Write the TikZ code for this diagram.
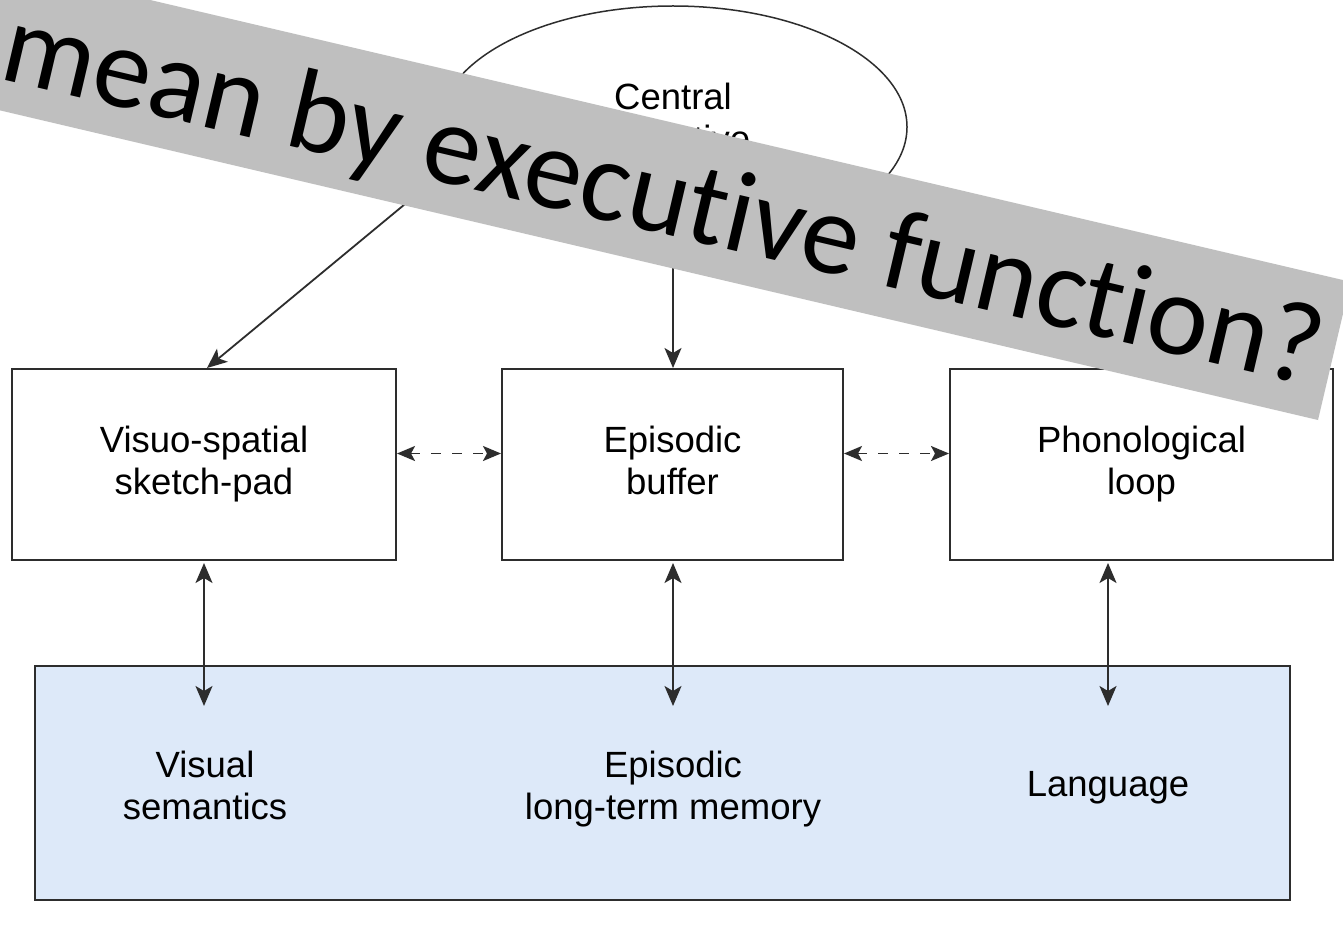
\documentclass[tikz,border=0pt]{standalone}
\usepackage{fontspec}
\setmainfont{Liberation Sans}
\newfontfamily\bannerfont[Ligatures={NoCommon},RawFeature={-liga;-clig;-dlig;-calt}]{Carlito}
\usetikzlibrary{arrows.meta,shapes.geometric}
\definecolor{bannergray}{RGB}{191,191,191}
\definecolor{ltmblue}{RGB}{221,233,249}
\definecolor{edgecol}{RGB}{45,45,45}
\begin{document}
\begin{tikzpicture}[x=1pt,y=-1pt,
  diagfont/.style={font=\fontsize{36.5}{42}\selectfont},
  compbox/.style={draw=edgecol, line width=2pt, minimum height=191pt, inner sep=0pt, align=center, diagfont},
  ltmtext/.style={align=center, inner sep=0pt, diagfont},
  conn/.style={draw=edgecol, line width=1.8pt},
  tip/.style={-{Stealth[length=20pt,width=17pt,inset=5pt]}},
  dtip/.style={{Stealth[length=20pt,width=17pt,inset=5pt]}-{Stealth[length=20pt,width=17pt,inset=5pt]}},
  dashtip/.style={{Stealth[length=18pt,width=15pt,inset=4pt]}-{Stealth[length=18pt,width=15pt,inset=4pt]}},
  dashconn/.style={draw=edgecol, line width=1.8pt, dash pattern=on 10pt off 11pt}
]
\useasboundingbox (0,0) rectangle (1343,928);
\clip (0,0) rectangle (1343,928);
\fill[white] (0,0) rectangle (1343,928);

% long-term memory
\node[draw=edgecol, line width=2pt, fill=ltmblue, minimum width=1255pt, minimum height=234pt, inner sep=0pt] (ltm) at (662.5,783) {};

% central executive
\node[draw=edgecol, line width=1.5pt, ellipse, minimum width=468pt, minimum height=242pt, inner sep=0pt] (ce) at (673,127) {};
\node[ltmtext] (cetext) at (673,117.7) {Central\\executive};

% components
\node[compbox, minimum width=384pt] (vs) at (204,464.5) {Visuo-spatial\\sketch-pad};
\node[compbox, minimum width=341pt] (eb) at (672.5,464.5) {Episodic\\buffer\vphantom{p}};
\node[compbox, minimum width=383pt] (pl) at (1141.5,464.5) {Phonological\\loop};

% LTM texts
\node[ltmtext] (vsem) at (205,789) {Visual\\semantics\vphantom{y}};
\node[ltmtext] (eltm) at (673,789) {Episodic\\long-term memory};
\node[ltmtext] (lang) at (1108,788) {Language};

\coordinate (vsend) at (204,706);
\coordinate (ebend) at (673,706);
\coordinate (plend) at (1108,706);
\coordinate (vstop) at (204,563);
\coordinate (ebtop) at (673,563);
\coordinate (pltop) at (1108,563);

% arrows from central executive
\draw[conn, tip] (ce.190.7) -- ([xshift=3pt]vs.north);
\draw[conn, tip] (ce.south) -- (ce.south |- eb.north);

% dashed links
\draw[dashconn, dashtip] ([yshift=11pt]vs.east) -- ([yshift=11pt]eb.west);
\draw[dashconn, dashtip] ([yshift=11pt]eb.east) -- ([yshift=11pt]pl.west);

% vertical links
\draw[conn, dtip] (vstop) -- (vsend);
\draw[conn, dtip] (ebtop) -- (ebend);
\draw[conn, dtip] (pltop) -- (plend);

% overlay banner
\fill[bannergray] (-239.6,54.1) -- (1318,420) -- (1350.5,281.8) -- (-207.1,-83.9) -- cycle;
\node[anchor=base west, rotate=-13.2, inner sep=0pt, font=\bannerfont\fontsize{116}{139}\selectfont] (banner) at (-3,78) {mean by execut\kern0pt ive funct\kern0pt ion?};
\end{tikzpicture}
\end{document}
